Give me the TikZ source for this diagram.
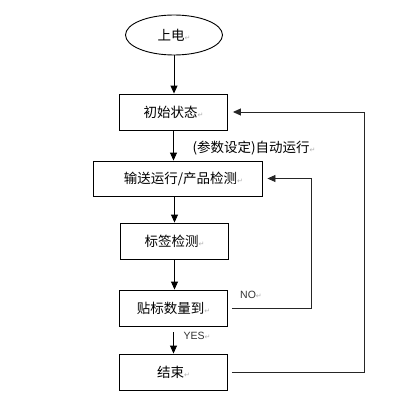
\documentclass[tikz,border=0pt]{standalone}
\usepackage{fontspec}
\setmainfont{Liberation Sans}
\newfontfamily\cjk{Noto Sans CJK SC}
\newfontfamily\symfont{DejaVu Sans}
\usetikzlibrary{arrows.meta, shapes.geometric}
\newcommand{\pmark}{{\symfont\color{gray!60}\fontsize{7}{7}\selectfont ↵}}

\begin{document}
\begin{tikzpicture}[x=1pt, y=-1pt,
  font=\cjk\fontsize{13.5}{15}\selectfont,
  arrow/.style={-{Triangle[length=8pt, width=7pt]}, line width=0.9pt, black},
  loopline/.style={arrow, draw=black!85, shorten <=4pt, shorten >=5pt},
  stepbox/.style={draw, line width=0.9pt, minimum width=108pt, minimum height=36pt,
                  inner sep=0pt},
  startnode/.style={draw, ellipse, line width=0.9pt, minimum width=97pt,
                  minimum height=40pt, inner sep=0pt},
  lbl/.style={inner sep=0pt, font=\fontsize{10.5}{12}\selectfont, text=black!80},
]
\useasboundingbox[fill=white] (0,0) rectangle (411,401);
\node[startnode] (power) at (174,35) {上电\pmark};
\node[stepbox] (init) at (173.5,112) {初始状态\pmark};
\node[stepbox, minimum width=169pt, minimum height=35pt] (convey) at (177.5,178.5) {\hspace{12pt}输送运行/产品检测\pmark};
\node[stepbox] (tagcheck) at (174.5,241) {标签检测\pmark};
\node[stepbox] (count) at (173.5,308) {贴标数量到\pmark};
\node[stepbox] (finish) at (173.5,372) {结束\pmark};
\node[inner sep=0pt] (autorun) at (254,148) {(参数设定)自动运行\pmark};
\node[lbl] (nolbl) at (251,295) {NO\pmark};
\node[lbl] (yeslbl) at (197,336) {YES\pmark};
\draw[arrow] (power.south) -- (power.south |- init.north);
\draw[arrow] (init.south) -- (init.south |- convey.north);
\draw[arrow] (tagcheck.north |- convey.south) -- (tagcheck.north);
\draw[arrow] (tagcheck.south) -- (tagcheck.south |- count.north);
\draw[arrow] ([yshift=-6pt]count.south) -- (finish.north);
\draw[loopline] (count.east) -- ++(83,0) |- (convey.east);
\draw[loopline] (finish.east) -- ++(136,0) |- (init.east);
\end{tikzpicture}
\end{document}
